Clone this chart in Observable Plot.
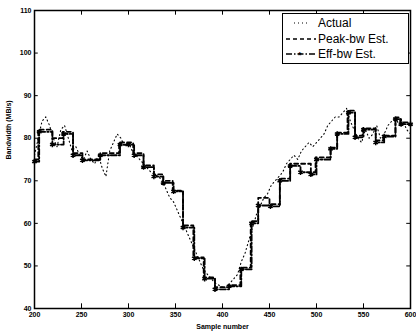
<!DOCTYPE html>
<html>
<head>
<meta charset="utf-8">
<script src="https://cdn.jsdelivr.net/npm/d3@7"></script>
<script src="https://cdn.jsdelivr.net/npm/@observablehq/plot@0.6"></script>
<style>
  body { margin: 0; background: white; }
  #wrap { position: relative; width: 416px; height: 333px; }
  #legend { position: absolute; left: 282px; top: 13px; width: 125px; height: 49px;
    border: 1px solid black; background: white; font-family: "Liberation Sans", Arial, sans-serif;
    font-size: 12px; }
  #legend .row { position: absolute; left: 0; height: 14px; width: 125px; }
  #legend svg { position: absolute; left: 3px; top: 3px; }
  #legend span { position: absolute; left: 35px; top: 0; line-height: 14px; }
</style>
</head>
<body>
<div id="wrap"></div>
<script>
const xTicks = [200, 250, 300, 350, 400, 450, 500, 550, 600];
const yTicks = [40, 50, 60, 70, 80, 90, 100, 110];
const xLabel = "Sample number";
const yLabel = "Bandwidth (MB/s)";
const seriesNames = ["Actual", "Peak-bw Est.", "Eff-bw Est."];

// Actual bandwidth, every 4 samples from 200 to 600
const actualX = [200,204,208,212,216,220,224,228,232,236,240,244,248,252,256,260,264,268,272,276,
  280,284,288,292,296,300,304,308,312,316,320,324,328,332,336,340,344,348,352,356,
  360,364,368,372,376,380,384,388,392,396,400,404,408,412,416,420,424,428,432,436,
  440,444,448,452,456,460,464,468,472,476,480,484,488,492,496,500,504,508,512,516,
  520,524,528,532,536,540,544,548,552,556,560,564,568,572,576,580,584,588,592,596,600];
const actualY = [76,80,84,85,83,80,78,82,83,80,77,78,76,75,77,75,74,76,73,71,
  77,79,81,80,78,79,77,76,75,74,73,72,71.5,71,70,68,66,65,63,61,
  59,57,55,53,51,49,48,47,46,45.5,45,45,46,47,48,51,53,56,59,62,
  64,66,67,69,70,71,72,74,75,76,75,77,78,79,78,79,80,81,83,84,
  85,85,86,87,84,82,80,79,82,80,81,83,80,81,83,84,85,83,84,82,81];

// Peak-bw estimate: step starts
const peakX = [200,204,219,230,241,251,270,290,299,305,316,327,337,347,358,369,380,392,407,419,430,438,450,461,472,483,494,499,515,522,533,541,549,563,571,584,589,600];
const peakY = [75,82,80,81.5,76.5,75,76.5,79,79,76.5,73.6,71.5,70,67.7,59.5,52,47.3,45,45.5,49.6,60.5,66,64.5,70.5,74,74,72,75.5,77.8,81.3,86.5,80.6,82.3,79.5,80.6,84.9,83.7,83.7];

// Eff-bw estimate: step starts
const effX = [200,205,219,231,241,251,270,291,300,306,316,327,337,348,358,370,381,392,407,420,431,438,451,461,472,483,494,500,515,522,534,541,550,563,572,584,590,600];
const effY = [74.5,81.5,78.5,81,76,74.8,76,78.5,78.5,76,73.2,71,69.5,67.5,59,51.8,47,44.5,45.2,49.2,60,64.2,64,70,73.5,72,71.5,75,77.5,81,86,80.2,82,79,80.4,84.5,83.3,83.3];

const actual = actualX.map((x, i) => ({x, y: actualY[i]}));
const peak = peakX.map((x, i) => ({x, y: peakY[i]}));
const eff = effX.map((x, i) => ({x, y: effY[i]}));

const chart = Plot.plot({
  width: 416,
  height: 333,
  marginLeft: 34,
  marginRight: 6,
  marginTop: 10,
  marginBottom: 25,
  style: {fontFamily: "'Liberation Sans', Arial, sans-serif", fontSize: "7px", fontWeight: "bold", background: "white", color: "black"},
  x: {domain: [200, 600], ticks: xTicks, tickSize: 0, tickPadding: 4, label: null},
  y: {domain: [40, 110], ticks: yTicks, tickSize: 0, tickPadding: 3, label: null},
  marks: [
    Plot.ruleX(xTicks, {x: d => d, y1: 40, y2: 41.1, stroke: "black"}),
    Plot.ruleX(xTicks, {x: d => d, y1: 108.9, y2: 110, stroke: "black"}),
    Plot.ruleY(yTicks, {y: d => d, x1: 200, x2: 204, stroke: "black"}),
    Plot.ruleY(yTicks, {y: d => d, x1: 596, x2: 600, stroke: "black"}),
    Plot.line(actual, {x: "x", y: "y", stroke: "black", strokeWidth: 1.1, strokeDasharray: "1,3"}),
    Plot.line(peak, {x: "x", y: "y", curve: "step-after", stroke: "black", strokeWidth: 1.8, strokeDasharray: "4,3"}),
    Plot.line(eff, {x: "x", y: "y", curve: "step-after", stroke: "black", strokeWidth: 1.8, strokeDasharray: "6,2,1.5,2"}),
    Plot.dot(eff, {x: "x", y: "y", symbol: "asterisk", r: 2.5, stroke: "black", strokeWidth: 1.5}),
    Plot.frame({stroke: "black", strokeWidth: 1.5}),
    Plot.text([xLabel], {text: d => d, frameAnchor: "bottom", dy: 20, fontSize: 7, fontWeight: "bold", fill: "black"}),
    Plot.text([yLabel], {text: d => d, frameAnchor: "left", dx: -26, rotate: -90, fontSize: 7, fontWeight: "bold", fill: "black"})
  ]
});

const wrap = document.getElementById("wrap");
wrap.appendChild(chart);

const legend = document.createElement("div");
legend.id = "legend";
const dashes = ["1,3", "4,3", "6,2,1.5,2"];
seriesNames.forEach((name, i) => {
  const row = document.createElement("div");
  row.className = "row";
  row.style.top = (2 + i * 15.5) + "px";
  row.innerHTML = `<svg width="30" height="8"><line x1="${i === 0 ? 8 : 0}" y1="4" x2="${i === 0 ? 22 : 30}" y2="4" stroke="black" stroke-width="${i === 0 ? 1.2 : 1.5}" stroke-dasharray="${dashes[i]}"/>${i === 2 ? '<text x="12" y="7.5" font-size="9" font-weight="bold">*</text>' : ''}</svg><span>${name}</span>`;
  legend.appendChild(row);
});
wrap.appendChild(legend);
</script>
</body>
</html>
